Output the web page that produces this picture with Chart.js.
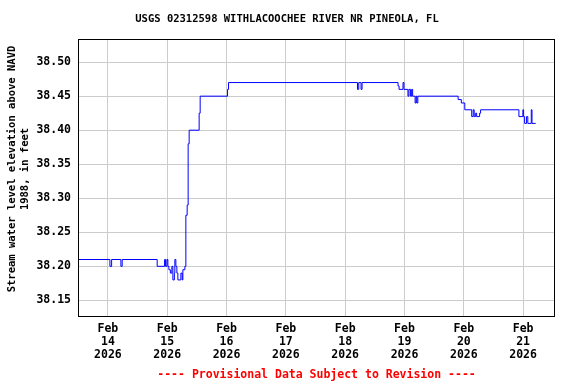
<!DOCTYPE html>
<html><head><meta charset="utf-8">
<script src="https://cdn.jsdelivr.net/npm/chart.js@4/dist/chart.umd.min.js"></script>
<style>html,body{margin:0;padding:0;background:#fff}#wrap{width:576px;height:384px}</style>
</head><body><div id="wrap"><canvas id="c" width="576" height="384"></canvas></div>
<script>
const chartTitle = "USGS 02312598 WITHLACOOCHEE RIVER NR PINEOLA, FL";
const yAxisTitle = ["Stream water level elevation above NAVD", "1988, in feet"];
const footnote = "---- Provisional Data Subject to Revision ----";
// hours since Feb 14 2026 00:00
const hours = [-12.2, 0.81, 1.5, 5.26, 5.78, 19.94, 22.93, 23.33, 23.86, 24.26, 24.67, 25.27, 25.88, 26.29, 26.89, 27.09, 27.5, 27.9, 28.31, 29.52, 30.05, 30.33, 31.14,
  31.54, 32.07, 32.47, 32.88, 36.92, 37.33, 48.41, 48.81,
  100.98, 101.5, 102.43, 102.84, 117.4, 117.8, 119.4, 119.8, 121.4, 121.8, 122.4, 122.9, 123.3, 124.3, 124.7, 125.0, 125.4,
  141.7, 143.0, 144.4, 147.2, 147.8, 148.2, 148.8, 149.2, 150.4, 150.8,
  166.3, 167.9, 168.2, 168.6, 169.4, 169.9, 171.3, 171.6, 173.1];
const levels = [38.21, 38.20, 38.21, 38.20, 38.21, 38.20, 38.21, 38.20, 38.21, 38.20, 38.195, 38.19, 38.20, 38.18, 38.19, 38.21, 38.20, 38.19, 38.18, 38.19, 38.18, 38.195, 38.20,
  38.275, 38.29, 38.38, 38.40, 38.425, 38.45, 38.46, 38.47,
  38.46, 38.47, 38.46, 38.47, 38.465, 38.46, 38.47, 38.46, 38.45, 38.46, 38.45, 38.46, 38.45, 38.44, 38.45, 38.44, 38.45,
  38.445, 38.44, 38.43, 38.42, 38.43, 38.42, 38.425, 38.42, 38.425, 38.43,
  38.42, 38.43, 38.42, 38.41, 38.42, 38.41, 38.43, 38.41, 38.41];
const dayTicks = [0, 24, 48, 72, 96, 120, 144, 168];
const dayLabels = [["Feb","14","2026"],["Feb","15","2026"],["Feb","16","2026"],["Feb","17","2026"],["Feb","18","2026"],["Feb","19","2026"],["Feb","20","2026"],["Feb","21","2026"]];
const yTicks = [38.15, 38.20, 38.25, 38.30, 38.35, 38.40, 38.45, 38.50];

const FONT = "'DejaVu Sans Mono', monospace";
const points = hours.map((h, i) => ({x: h, y: levels[i]}));

const textPlugin = {
  id: 'texts',
  afterDraw(chart) {
    const ctx = chart.ctx, a = chart.chartArea;
    ctx.save();
    ctx.strokeStyle = '#000'; ctx.lineWidth = 1;
    ctx.strokeRect(Math.round(a.left) + 0.5, Math.round(a.top) + 0.5, Math.round(a.right - a.left) - 1, Math.round(a.bottom - a.top));
    ctx.fillStyle = '#000';
    ctx.textAlign = 'center'; ctx.textBaseline = 'middle';
    ctx.font = "bold 10.5px " + FONT;
    ctx.fillText(chartTitle, 287, 19);
    ctx.font = "bold 10.5px " + FONT;
    ctx.translate(0, 169);
    ctx.rotate(-Math.PI / 2);
    ctx.fillText(yAxisTitle[0], 0, 12);
    ctx.fillText(yAxisTitle[1], 0, 25);
    ctx.restore();
    ctx.save();
    ctx.fillStyle = '#ff0000';
    ctx.font = "bold 11.5px " + FONT;
    ctx.textAlign = 'center'; ctx.textBaseline = 'middle';
    ctx.fillText(footnote, (a.left + a.right) / 2, 375);
    ctx.restore();
  }
};

new Chart(document.getElementById('c'), {
  type: 'line',
  data: { datasets: [{ data: points, borderColor: '#0000ff', borderWidth: 1, pointRadius: 0, stepped: true, fill: false, tension: 0 }] },
  options: {
    responsive: false, animation: false, devicePixelRatio: 1,
    layout: { padding: { top: 39, right: 21, left: 0, bottom: 0 } },
    plugins: { legend: { display: false }, tooltip: { enabled: false }, title: { display: false } },
    scales: {
      x: {
        type: 'linear', min: -12.1, max: 180.9,
        afterBuildTicks(s) { s.ticks = dayTicks.map(v => ({value: v})); },
        afterFit(s) { s.height = 68; },
        ticks: {
          autoSkip: false, maxRotation: 0, padding: 7, color: '#000',
          font: { family: FONT, size: 11.5, weight: 'bold', lineHeight: 1.1 },
          callback(v) { const i = dayTicks.indexOf(v); return i >= 0 ? dayLabels[i] : ''; }
        },
        grid: { color: '#cccccc', lineWidth: 1, drawTicks: false },
        border: { display: false }
      },
      y: {
        type: 'linear', min: 38.127, max: 38.534,
        afterBuildTicks(s) { s.ticks = yTicks.map(v => ({value: v})); },
        afterFit(s) { s.width = 78; },
        ticks: {
          padding: 7, color: '#000',
          font: { family: FONT, size: 11.5, weight: 'bold' },
          callback(v) { return Number(v).toFixed(2); }
        },
        grid: { color: '#cccccc', lineWidth: 1, drawTicks: false },
        border: { display: false }
      }
    }
  },
  plugins: [textPlugin]
});
</script>
</body></html>
